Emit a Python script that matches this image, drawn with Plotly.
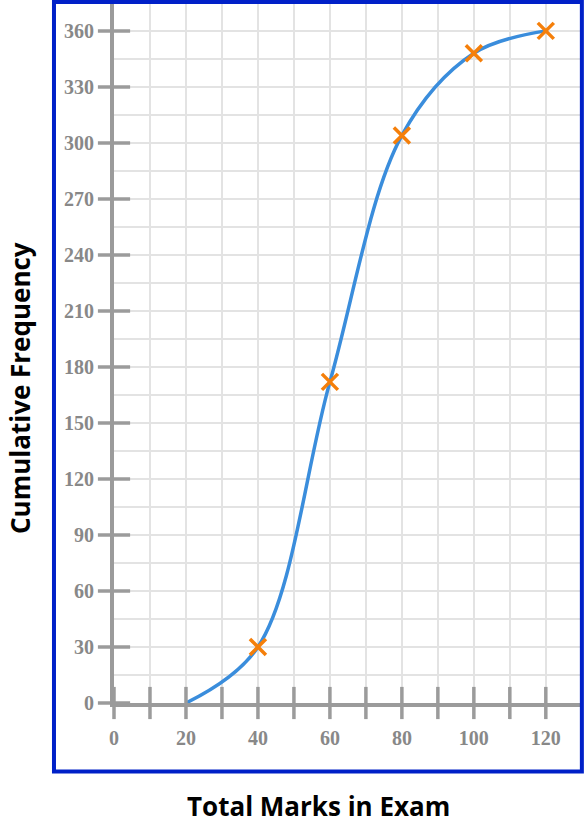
import plotly.graph_objects as go

# ── Data ──────────────────────────────────────────────────────────────────────
marks = [40, 60, 80, 100, 120]
cum_freq = [30, 172, 304, 348, 360]
curve_marks = [20, 40, 60, 80, 100, 120]
curve_freq = [0, 30, 172, 304, 348, 360]

x_ticks = [0, 10, 20, 30, 40, 50, 60, 70, 80, 90, 100, 110, 120]
x_labels = [0, 20, 40, 60, 80, 100, 120]
y_ticks = [0, 30, 60, 90, 120, 150, 180, 210, 240, 270, 300, 330, 360]

AXIS_GREY = '#9b9b9b'
LABEL_GREY = '#888888'
GRID = '#e3e3e3'
FRAME = '#0020c8'
CURVE = '#3a8ddc'
CROSS = '#f57f0a'
TICK_FONT = dict(family='Liberation Serif, Times New Roman, serif', size=20, color=LABEL_GREY)
TITLE_FONT = dict(family='Open Sans', size=26, color='black')

fig = go.Figure()

# smooth cumulative frequency curve
fig.add_trace(go.Scatter(
    x=curve_marks, y=curve_freq, mode='lines',
    line=dict(color=CURVE, width=3.5, shape='spline', smoothing=1.0),
    hoverinfo='skip', cliponaxis=False))

# plotted points
fig.add_trace(go.Scatter(
    x=marks, y=cum_freq, mode='markers',
    marker=dict(symbol='x-thin', size=16, color=CROSS,
                line=dict(color=CROSS, width=3.5)),
    cliponaxis=False))

# tick marks that cross the axes
fig.add_trace(go.Scatter(
    x=x_ticks, y=[0] * len(x_ticks), mode='markers',
    marker=dict(symbol='line-ns', size=23, color=AXIS_GREY,
                line=dict(color=AXIS_GREY, width=3.5)),
    hoverinfo='skip', cliponaxis=False))
fig.add_trace(go.Scatter(
    x=[0] * len(y_ticks), y=y_ticks, mode='markers',
    marker=dict(symbol='line-ew', size=23, color=AXIS_GREY,
                line=dict(color=AXIS_GREY, width=3.5)),
    hoverinfo='skip', cliponaxis=False))

# blue frame around the plot
fig.add_shape(type='rect', xref='paper', yref='paper',
              x0=-0.1288, x1=1.004, y0=-0.098, y1=1.003,
              line=dict(color=FRAME, width=4), layer='above')

# axis titles
fig.add_annotation(xref='paper', yref='paper', x=(318 - 114) / 466, y=(703 - 806) / 699,
                   text='<b>Total Marks in Exam</b>', showarrow=False,
                   font=TITLE_FONT, xanchor='center', yanchor='middle')
fig.add_annotation(xref='paper', yref='paper', x=(20 - 114) / 466, y=(703 - 388) / 699,
                   text='<b>Cumulative Frequency</b>', showarrow=False, textangle=-90,
                   font=TITLE_FONT, xanchor='center', yanchor='middle')

fig.update_layout(
    width=584, height=826,
    margin=dict(l=114, r=4, t=4, b=123),
    paper_bgcolor='white', plot_bgcolor='white',
    showlegend=False,
    xaxis=dict(
        range=[0, 129.5], tickvals=x_labels,
        ticktext=[f'<b>{v}</b>' for v in x_labels],
        showgrid=True, gridcolor=GRID, gridwidth=1.5,
        minor=dict(dtick=10, tick0=0, showgrid=True, gridcolor=GRID, gridwidth=1.5),
        showline=True, linecolor=AXIS_GREY, linewidth=4,
        zeroline=False,
        ticks='outside', ticklen=14, tickcolor='rgba(0,0,0,0)',
        tickfont=TICK_FONT,
    ),
    yaxis=dict(
        range=[0, 374.4], tickvals=y_ticks,
        ticktext=[f'<b>{v}</b>' for v in y_ticks],
        showgrid=True, gridcolor=GRID, gridwidth=1.5,
        minor=dict(dtick=15, tick0=0, showgrid=True, gridcolor=GRID, gridwidth=1.5),
        showline=True, linecolor=AXIS_GREY, linewidth=4,
        zeroline=False,
        ticks='outside', ticklen=12, tickcolor='rgba(0,0,0,0)',
        tickfont=TICK_FONT,
    ),
)

fig.write_html('out.html', config={'displayModeBar': False},
               post_script="document.body.style.margin='0';")
